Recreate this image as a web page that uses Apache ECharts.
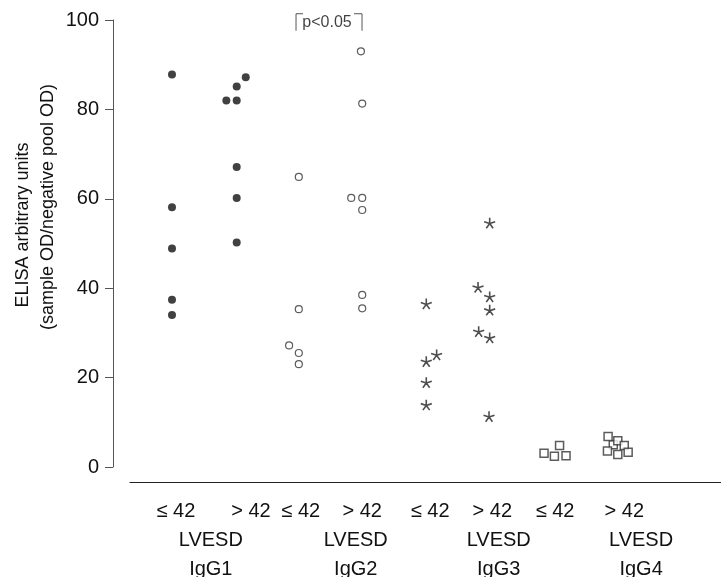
<!DOCTYPE html>
<html><head><meta charset="utf-8">
<script src="https://cdn.jsdelivr.net/npm/echarts@6/dist/echarts.min.js"></script>
<style>html,body{margin:0;padding:0;background:#fff}#c{width:721px;height:577px}</style>
</head><body><div id="c"></div>
<script>
// ---- data ----
const subgroupLabels = ['≤ 42', '> 42', '≤ 42', '> 42', '≤ 42', '> 42', '≤ 42', '> 42'];
const groupLabels = ['LVESD\nIgG1', 'LVESD\nIgG2', 'LVESD\nIgG3', 'LVESD\nIgG4'];
const yTickValues = [0, 20, 40, 60, 80, 100];
const igg1Low  = [87.8, 58.1, 48.9, 37.4, 34.0];
const igg1High = [87.2, 85.1, 82.0, 82.0, 67.1, 60.2, 50.2];
const igg2Low  = [64.9, 35.3, 27.2, 25.5, 23.0];
const igg2High = [93.0, 81.3, 60.2, 60.2, 57.5, 38.5, 35.5];
const igg3Low  = [36.5, 23.6, 25.1, 18.9, 13.9];
const igg3High = [54.6, 40.2, 38.1, 35.1, 30.3, 28.9, 11.3];
const igg4Low  = [3.1, 4.8, 2.4, 2.5];
const igg4High = [5.0, 6.8, 5.9, 4.8, 3.6, 2.8, 3.3];
const pLabel = 'p<0.05';

// ---- layout (not data) ----
// horizontal scatter of each point, in subgroup widths, around its subgroup slot
const jitter = [
  [0, 0, 0, 0, 0],
  [0.14, 0, -0.16, 0, 0, 0, 0],
  [-0.04, -0.04, -0.19, -0.04, -0.04],
  [-0.08, -0.06, -0.23, -0.06, -0.06, -0.06, -0.06],
  [-0.07, -0.07, 0.09, -0.07, -0.07],
  [-0.09, -0.27, -0.09, -0.09, -0.26, -0.09, -0.10],
  [-0.25, -0.01, -0.09, 0.09],
  [-0.18, -0.26, -0.11, -0.01, -0.27, -0.11, 0.05]
];
const subLabelPos = [0.06, 1.22, 1.99, 2.94, 3.99, 4.95, 5.92, 6.99];
const groupLabelPos = [0.60, 2.84, 5.05, 7.25];
const xMin = -0.649, xMax = 8.485;
const FONT = 'Liberation Sans, Arial, Helvetica, sans-serif';

function pts(values, slot) {
  return values.map((v, k) => [slot + jitter[slot][k], v]);
}
function nearestIdx(arr, v) {
  let b = 0;
  for (let i = 1; i < arr.length; i++) if (Math.abs(arr[i] - v) < Math.abs(arr[b] - v)) b = i;
  return b;
}
const asterisk = 'path://M10,10L10,0M10,10L19.51,6.91M10,10L15.88,18.09M10,10L4.12,18.09M10,10L0.49,6.91';

const chart = echarts.init(document.getElementById('c'));
chart.setOption({
  animation: false,
  backgroundColor: '#fff',
  grid: { left: 130, right: 0, top: 20, bottom: 110, containLabel: false, outerBoundsMode: 'none' },
  xAxis: [
    {
      type: 'value', min: xMin, max: xMax, position: 'bottom', offset: 15,
      axisLine: { show: true, onZero: false, lineStyle: { color: '#222', width: 1.2 } },
      axisTick: { show: false }, splitLine: { show: false },
      axisLabel: {
        customValues: subLabelPos, margin: 15, lineHeight: 29,
        fontFamily: FONT, fontSize: 20, color: '#111',
        formatter: v => subgroupLabels[nearestIdx(subLabelPos, v)]
      }
    },
    {
      type: 'value', min: xMin, max: xMax, position: 'bottom', offset: 15,
      axisLine: { show: false, onZero: false }, axisTick: { show: false }, splitLine: { show: false },
      axisLabel: {
        customValues: groupLabelPos, margin: 44, lineHeight: 29,
        fontFamily: FONT, fontSize: 20, color: '#111',
        formatter: v => groupLabels[nearestIdx(groupLabelPos, v)]
      }
    }
  ],
  yAxis: {
    type: 'value', min: yTickValues[0], max: yTickValues[yTickValues.length - 1],
    interval: yTickValues[1] - yTickValues[0], offset: 17, position: 'left',
    axisLine: { show: true, onZero: false, lineStyle: { color: '#555', width: 1 } },
    axisTick: { show: true, inside: false, length: 8, lineStyle: { color: '#555', width: 1 } },
    splitLine: { show: false },
    axisLabel: { margin: 14, fontFamily: FONT, fontSize: 20, color: '#111' }
  },
  graphic: [
    { type: 'text', x: 23, y: 225, rotation: Math.PI / 2,
      style: { text: 'ELISA arbitrary units', font: '18px ' + FONT, fill: '#111', align: 'center', verticalAlign: 'middle' } },
    { type: 'text', x: 48, y: 207, rotation: Math.PI / 2,
      style: { text: '(sample OD/negative pool OD)', font: '18px ' + FONT, fill: '#111', align: 'center', verticalAlign: 'middle' } }
  ],
  series: [
    { type: 'scatter', name: 'IgG1', symbol: 'circle', symbolSize: 8,
      itemStyle: { color: '#111' },
      data: pts(igg1Low, 0).concat(pts(igg1High, 1)) },
    { type: 'scatter', name: 'IgG2', symbol: 'circle', symbolSize: 7,
      itemStyle: { color: '#fff', borderColor: '#333', borderWidth: 1.2 },
      data: pts(igg2Low, 2).concat(pts(igg2High, 3)) },
    { type: 'scatter', name: 'IgG3', symbol: asterisk, symbolSize: 11, symbolKeepAspect: true,
      itemStyle: { color: 'transparent', borderColor: '#222', borderWidth: 1.6 },
      data: pts(igg3Low, 4).concat(pts(igg3High, 5)) },
    { type: 'scatter', name: 'IgG4', symbol: 'rect', symbolSize: 8,
      itemStyle: { color: '#fff', borderColor: '#333', borderWidth: 1.5 },
      data: pts(igg4Low, 6).concat(pts(igg4High, 7)) },
    { type: 'line', clip: false, symbol: 'none', silent: true,
      lineStyle: { color: '#555', width: 1 },
      data: [[1.917, 97.6], [1.917, 101.4], [2.025, 101.4]] },
    { type: 'line', clip: false, symbol: 'none', silent: true,
      lineStyle: { color: '#555', width: 1 },
      data: [[2.813, 101.4], [2.937, 101.4], [2.937, 97.6]] },
    { type: 'scatter', clip: false, symbolSize: 0, silent: true,
      label: { show: true, position: 'inside', formatter: pLabel, fontFamily: FONT, fontSize: 16, color: '#111' },
      data: [[2.396, 99.4]] }
  ]
});
</script>
</body></html>
